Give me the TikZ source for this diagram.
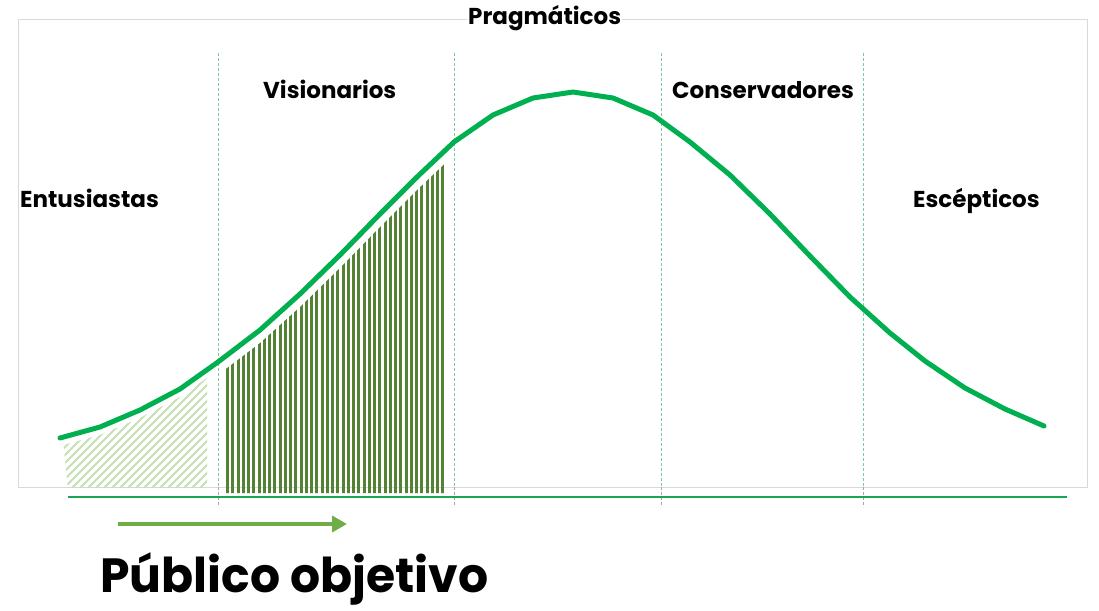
\documentclass[tikz,border=0pt]{standalone}
\usepackage{fontspec}
\setmainfont{Poppins}
\usetikzlibrary{arrows.meta}
\definecolor{curvegreen}{HTML}{00B050}
\definecolor{basegreen}{HTML}{1AA555}
\definecolor{stripegreen}{HTML}{548235}
\definecolor{hatchgreen}{HTML}{C5E0B4}
\definecolor{arrowgreen}{HTML}{70AD47}
\definecolor{dashteal}{HTML}{7CC8A6}
\definecolor{framegray}{HTML}{D9D9D9}
\tikzset{
  lbl/.style={anchor=base west, inner sep=0pt, font=\bfseries\fontsize{23}{28}\selectfont},
  big/.style={anchor=base west, inner sep=0pt, font=\bfseries\fontsize{48}{56}\selectfont},
  divider/.style={draw=dashteal, line width=1pt, dash pattern=on 3pt off 2pt},
  dividerlow/.style={draw=gray!70, line width=1pt, dash pattern=on 3pt off 2pt},
  bell/.style={draw=curvegreen, line width=5pt, line cap=round, line join=round},
  hatchline/.style={draw=hatchgreen, line width=2pt},
  stripe/.style={fill=stripegreen},
  target/.style={draw=arrowgreen, line width=4.5pt, -{Triangle[length=15pt,width=16pt]}},
}
\begin{document}
\begin{tikzpicture}[x=1pt,y=-1pt]
\useasboundingbox (0,0) rectangle (1099,610);
\fill[white] (0,0) rectangle (1099,610);
% frame
\draw[framegray, line width=1pt] (18,20) rectangle (1087,487);
% light hatch area
\begin{scope}
  \clip[yshift=-8pt] (40,443) -- (60,438) -- (100,427) -- (140,410) -- (180,389) -- (218,362) -- (240,345) -- (240,480) -- (40,480) -- cycle;
  \clip (68,489) -- (61,420) -- (207,300) -- (207,489) -- cycle;
  \foreach \i in {0,...,40} {
    \draw[hatchline] ({-100+\i*8},500) -- ++(170,-170);
  }
\end{scope}
% dark stripes
\begin{scope}
  \clip[yshift=-13pt] (180,389) -- (218,362) -- (260,330) -- (300,294) -- (340,255) -- (380,214) -- (417,177) -- (454,142) -- (493,115) -- (493,480) -- (180,480) -- cycle;
  \clip (225,100) rectangle (447,493);
  \foreach \i in {0,...,41} {
    \fill[stripe] ({226+\i*5.25},100) rectangle ++(3,400);
  }
\end{scope}
% dividers
\foreach \x/\n in {218/a,454/b,661/c,863/d} {
  \coordinate (top\n) at (\x,53);
  \coordinate (mid\n) at (\x,487);
  \coordinate (bot\n) at (\x,507);
  \draw[divider] (top\n) -- (mid\n);
  \draw[dividerlow] (mid\n) -- (bot\n);
}
% baseline
\coordinate (bl) at (68,497);
\coordinate (br) at (1067,497);
\draw[basegreen, line width=2.5pt] (bl) -- (br);
% bell curve
\draw[bell] (60,438) -- (100,427) -- (140,410) -- (180,389) -- (218,362) -- (260,330) -- (300,294) -- (340,255) -- (380,214) -- (417,177) -- (454,142) -- (493,115) -- (533,98) -- (573,92) -- (613,98) -- (653,115) -- (690,142) -- (730,175) -- (770,214) -- (810,256) -- (850,297) -- (890,333) -- (925,361) -- (965,388) -- (1005,409) -- (1044,426);
% labels
\node[lbl, fill=white, inner xsep=1pt] (prag) at (467,25) {Pragmáticos};
\node[lbl] (vis) at (263,98) {Visionarios};
\node[lbl] (cons) at (672,98) {Conservadores};
\node[lbl] (ent) at (20,207) {Entusiastas};
\node[lbl] (esc) at (913,207) {Escépticos};
% arrow
\coordinate (arrS) at (118,524);
\coordinate (arrE) at (347,524);
\draw[target] (arrS) -- (arrE);
\node[big] (pub) at (100,592) {\scalebox{0.985}[1]{Público objetivo}};
\end{tikzpicture}
\end{document}
